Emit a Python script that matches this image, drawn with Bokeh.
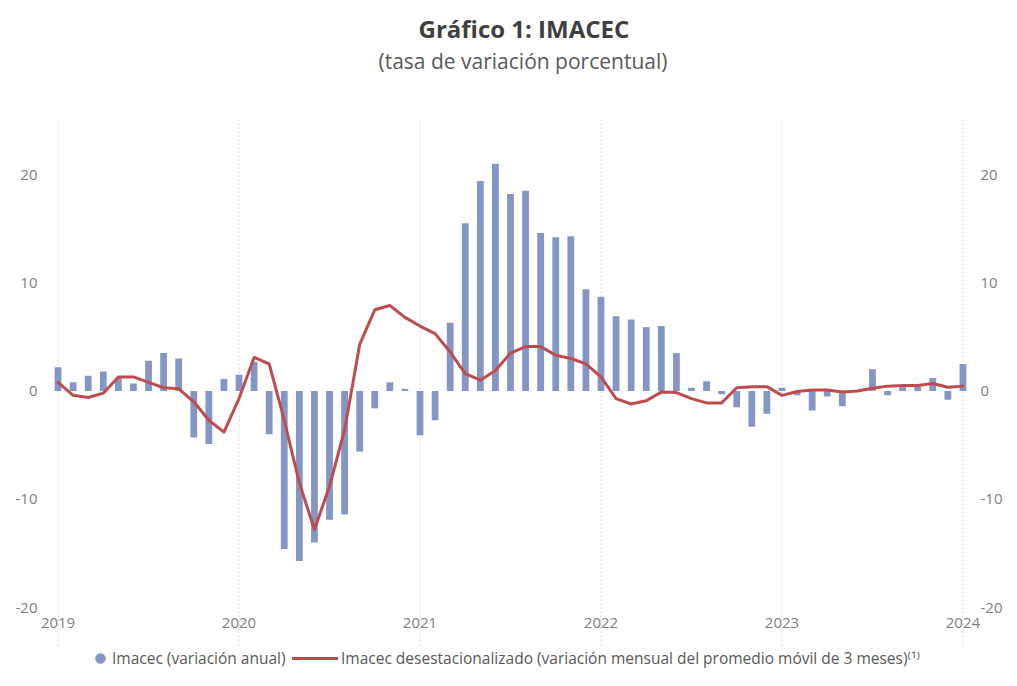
from bokeh.plotting import figure
from bokeh.models import (ColumnDataSource, FixedTicker, LinearAxis, Range1d, Title,
                          Legend, LegendItem)
from bokeh.embed import file_html
from bokeh.resources import INLINE

# ---------------- data ----------------
year_labels = ["2019", "2020", "2021", "2022", "2023", "2024"]
year_index = [0, 12, 24, 36, 48, 60]

imacec_anual = [
    2.2, 0.8, 1.4, 1.8, 1.2, 0.7, 2.8, 3.5, 3.0, -4.3, -4.9, 1.1,      # 2019
    1.5, 2.7, -4.0, -14.6, -15.7, -14.0, -11.9, -11.4, -5.6, -1.6, 0.8, 0.2,  # 2020
    -4.1, -2.7, 6.3, 15.5, 19.4, 21.0, 18.2, 18.5, 14.6, 14.2, 14.3, 9.4,     # 2021
    8.7, 6.9, 6.6, 5.9, 6.0, 3.5, 0.3, 0.9, -0.3, -1.5, -3.3, -2.1,          # 2022
    0.3, -0.4, -1.8, -0.5, -1.4, -0.1, 2.0, -0.4, 0.4, 0.4, 1.2, -0.8,       # 2023
    2.5,                                                                    # 2024
]

imacec_desest = [
    0.8, -0.4, -0.6, -0.2, 1.3, 1.3, 0.8, 0.3, 0.2, -1.0, -2.7, -3.8,       # 2019
    -0.7, 3.1, 2.5, -2.7, -8.5, -12.8, -8.8, -3.6, 4.3, 7.5, 7.9, 6.8,       # 2020
    6.0, 5.3, 3.6, 1.6, 1.0, 1.9, 3.5, 4.1, 4.1, 3.3, 3.0, 2.5,              # 2021
    1.3, -0.7, -1.2, -0.9, -0.1, -0.15, -0.7, -1.1, -1.1, 0.3, 0.4, 0.4,     # 2022
    -0.4, -0.05, 0.1, 0.1, -0.1, 0.0, 0.25, 0.45, 0.5, 0.5, 0.7, 0.35,       # 2023
    0.45,                                                                   # 2024
]

month_idx = list(range(len(imacec_anual)))
yticks = [-20, -10, 0, 10, 20]
ytick_labels = ["-20", "-10", "0", "10", "20"]

BAR_COLOR = "#8496C4"
LINE_COLOR = "#BF4B4E"
GRID_COLOR = "#d4d4d4"
FONT = "Open Sans"

src = ColumnDataSource(dict(x=month_idx, anual=imacec_anual, desest=imacec_desest))

# frame: 20 -> 174px, -20 -> 607px ; frame spans from 75px to 670px
PX_PER_UNIT = 433 / 40
y_top = 20 + (174 - 75) / PX_PER_UNIT
y_bot = -20 - (670 - 607) / PX_PER_UNIT
grid_top = 20 + (174 - 118) / PX_PER_UNIT
grid_bot = -20 - (645 - 607) / PX_PER_UNIT

p = figure(frame_width=920, frame_height=595, output_backend="svg",
           toolbar_location=None,
           x_range=Range1d(-0.5, 60.5), y_range=Range1d(y_bot, y_top),
           min_border_left=50, min_border_right=31, min_border_top=75,
           min_border_bottom=0, background_fill_color="white",
           border_fill_color="white")
p.outline_line_color = None

# ---------------- titles (first added = closest to the frame) ----------------
sub = Title(text="(tasa de variación porcentual)", align="left", offset=328,
            vertical_align="middle",
            text_font=FONT, text_font_size="21px", text_font_style="normal",
            text_color="#595959", standoff=0)
main = Title(text="Gráfico 1:  IMACEC", align="left", offset=368,
             vertical_align="middle",
             text_font=FONT, text_font_size="24px", text_font_style="bold",
             text_color="#404040", standoff=0)
p.add_layout(sub, "above")
p.add_layout(main, "above")

# ---------------- grid (dotted verticals at each January) ----------------
p.xgrid.visible = False
p.ygrid.visible = False
p.segment(x0=year_index, x1=year_index, y0=[grid_bot] * len(year_index),
          y1=[grid_top] * len(year_index), line_color=GRID_COLOR,
          line_dash="2 2", line_width=1)

# ---------------- glyphs ----------------
bars = p.vbar(x="x", top="anual", bottom=0, width=0.45, source=src,
              fill_color=BAR_COLOR, line_color=None)
line = p.line(x="x", y="desest", source=src, line_color=LINE_COLOR,
              line_width=3, line_join="round", line_cap="round")
# legend-only marker (NaN position, never drawn in the plot area)
dot = p.scatter(x=[float("nan")], y=[float("nan")], marker="circle", size=10,
                fill_color=BAR_COLOR, line_color=BAR_COLOR)

# ---------------- axes ----------------
def style_axis(ax, size="15px"):
    ax.axis_line_color = None
    ax.major_tick_line_color = None
    ax.minor_tick_line_color = None
    ax.major_tick_out = 0
    ax.major_tick_in = 0
    ax.minor_tick_out = 0
    ax.minor_tick_in = 0
    ax.major_label_text_font = FONT
    ax.major_label_text_font_size = size
    ax.major_label_text_color = "#808080"

yover = {t: l for t, l in zip(yticks, ytick_labels)}
p.yaxis.ticker = FixedTicker(ticks=yticks)
p.yaxis.major_label_overrides = yover
style_axis(p.yaxis[0])
p.yaxis[0].major_label_standoff = 13

rax = LinearAxis(ticker=FixedTicker(ticks=yticks), major_label_overrides=yover)
style_axis(rax)
rax.major_label_standoff = 10
p.add_layout(rax, "right")

p.xaxis.ticker = FixedTicker(ticks=year_index)
p.xaxis.major_label_overrides = {i: l for i, l in zip(year_index, year_labels)}
style_axis(p.xaxis[0])
p.xaxis[0].major_label_standoff = -53

# ---------------- legends (inside the bottom of the frame) ----------------
def make_legend(items, loc, gw, standoff):
    return Legend(items=items, location=loc, orientation="horizontal",
                  glyph_width=gw, glyph_height=24, label_standoff=standoff,
                  label_height=16, padding=0, margin=0, spacing=0,
                  label_text_font=FONT, label_text_font_size="15.5px",
                  label_text_color="#595959",
                  border_line_color=None, background_fill_alpha=0)

lg1 = make_legend([LegendItem(label="Imacec (variación anual)", renderers=[dot])],
                  (38, 0), 24, 0)
lg2 = make_legend([LegendItem(label="Imacec desestacionalizado (variación mensual del promedio móvil de 3 meses)⁽¹⁾",
                              renderers=[line])], (242, 0), 46, 3)
p.add_layout(lg1, "center")
p.add_layout(lg2, "center")

open("out.html", "w").write(file_html(p, INLINE))
